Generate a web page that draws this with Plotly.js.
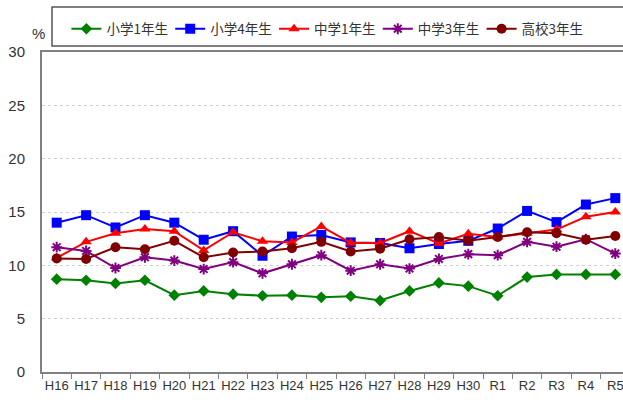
<!DOCTYPE html>
<html><head><meta charset="utf-8">
<script src="https://cdn.plot.ly/plotly-3.0.1.min.js"></script>
<style>html,body{margin:0;padding:0;overflow:hidden;background:#fff;}#chart{width:630px;height:400px;}</style>
</head><body><div id="chart"></div>
<script>
const categories = ["H16","H17","H18","H19","H20","H21","H22","H23","H24","H25","H26","H27","H28","H29","H30","R1","R2","R3","R4","R5"];
const shou1 = [8.7,8.6,8.3,8.6,7.2,7.6,7.3,7.15,7.2,7.0,7.1,6.7,7.6,8.35,8.05,7.15,8.9,9.15,9.15,9.15];
const shou4 = [14.0,14.7,13.55,14.7,14.0,12.4,13.2,10.9,12.7,12.85,12.15,12.1,11.6,12.0,12.3,13.45,15.1,14.05,15.7,16.3];
const chu1 = [10.7,12.2,13.0,13.4,13.2,11.4,13.1,12.25,12.15,13.65,12.1,12.1,13.2,12.05,12.95,12.65,13.0,13.35,14.55,15.0];
const chu3 = [11.7,11.35,9.75,10.75,10.45,9.65,10.3,9.25,10.1,10.95,9.5,10.1,9.7,10.6,11.05,10.95,12.2,11.75,12.45,11.1];
const kou3 = [10.65,10.6,11.7,11.5,12.3,10.75,11.2,11.3,11.6,12.2,11.3,11.55,12.45,12.65,12.3,12.65,13.1,13.0,12.4,12.75];
const seriesNames = ["小学1年生","小学4年生","中学1年生","中学3年生","高校3年生"];
const yTicks = [0,5,10,15,20,25,30];

const styles = [
  {color:"#008000", symbol:"diamond", size:9},
  {color:"#0000ff", symbol:"square", size:10},
  {color:"#ff0000", symbol:"triangle-up", size:10},
  {color:"#800080", symbol:"asterisk-open", size:9},
  {color:"#800000", symbol:"circle", size:10}
];
const data = [shou1, shou4, chu1, chu3, kou3];
const traces = data.map((vals,i)=>({
  type:"scatter", mode:"lines+markers", x:categories, y:vals, name:seriesNames[i],
  line:{color:styles[i].color, width:2},
  marker:{color:styles[i].color, symbol:styles[i].symbol, size:styles[i].size,
          line:{color:styles[i].color, width: styles[i].symbol==="asterisk-open"?2:0}}
}));

const layout = {
  width:630, height:400,
  margin:{l:42, r:0, t:52, b:28},
  paper_bgcolor:"#fff", plot_bgcolor:"#fff",
  font:{family:"Liberation Sans, Arial, sans-serif", size:13, color:"#333"},
  showlegend:true,
  legend:{orientation:"h", x:0.0415, xanchor:"left", y:1.072, yanchor:"middle",
          font:{family:"Noto Sans CJK JP, sans-serif", size:13.5, color:"#333"},
          entrywidth:58.8, entrywidthmode:"pixels", itemwidth:30, bgcolor:"rgba(0,0,0,0)"},
  xaxis:{type:"category", range:[-0.5,19.5], showline:true, linecolor:"#808080", linewidth:2, mirror:true,
         ticks:"outside", tickson:"boundaries", ticklen:5, tickcolor:"#808080", tickwidth:1,
         showgrid:false, zeroline:false, tickangle:0, tickfont:{size:13, color:"#333"}, fixedrange:true},
  yaxis:{range:[0,30], tickvals:yTicks, showline:true, linecolor:"#808080", linewidth:2, mirror:true,
         showgrid:true, gridcolor:"#d0d0d0", griddash:"dot", gridwidth:1, zeroline:false,
         ticks:"", ticklabelstandoff:12, tickfont:{size:15, color:"#333"}},
  shapes:[{type:"rect", xref:"paper", yref:"paper", x0:0.017, x1:1.2, y0:1.01875, y1:1.1406,
           line:{color:"#555", width:1.5}, fillcolor:"rgba(0,0,0,0)"}],
  annotations:[{text:"%", xref:"paper", yref:"paper", x:-0.0068, y:1.059, xanchor:"center", yanchor:"middle",
                showarrow:false, font:{size:15, color:"#333"}}]
};
Plotly.newPlot("chart", traces, layout, {staticPlot:true, displayModeBar:false});
</script></body></html>
